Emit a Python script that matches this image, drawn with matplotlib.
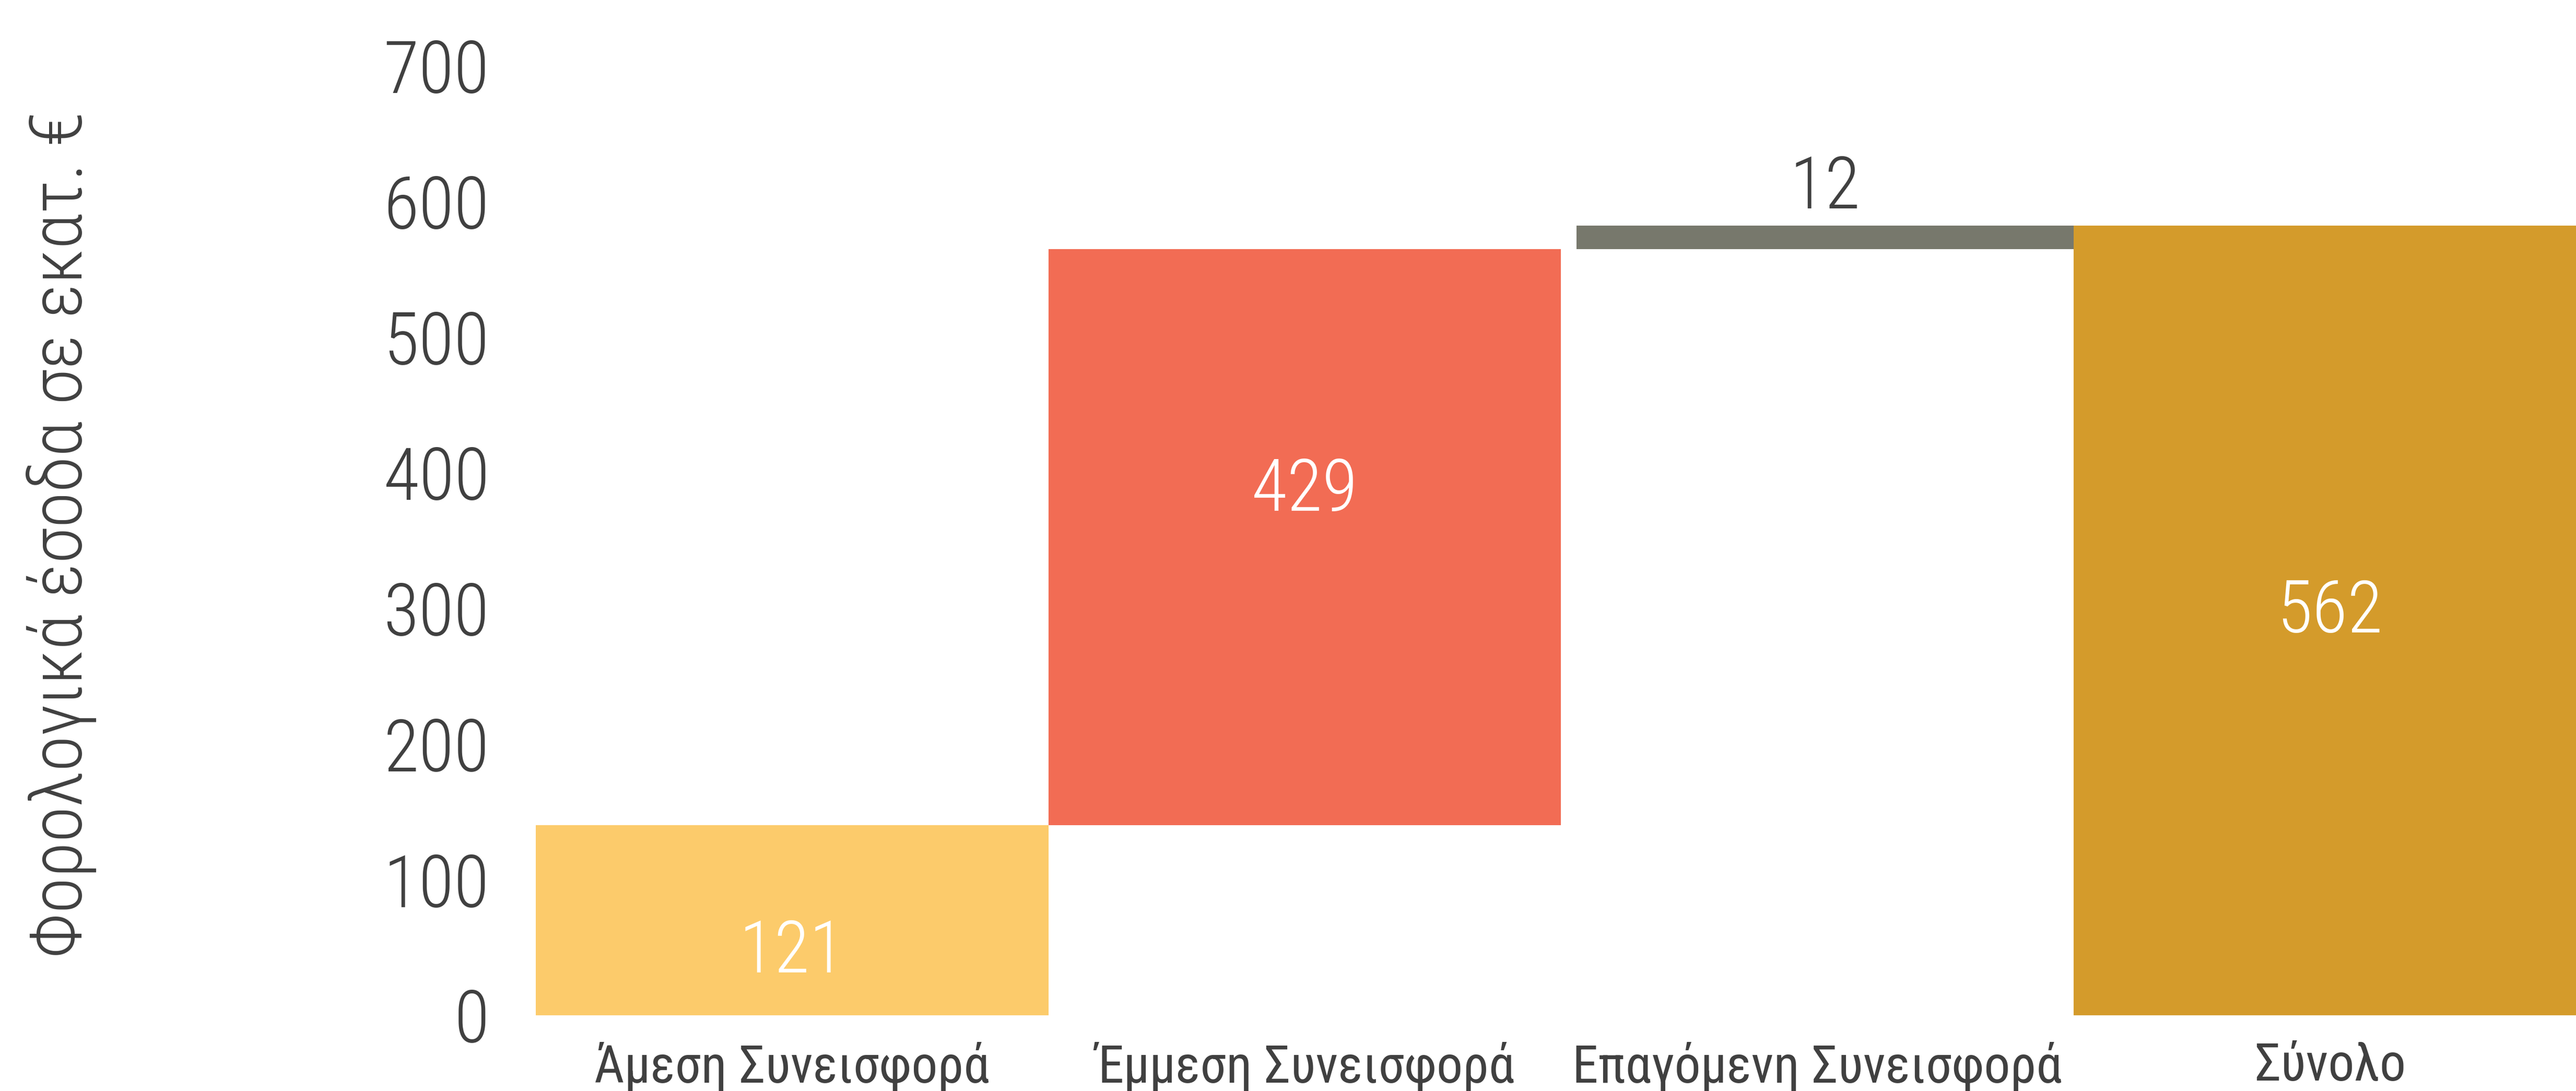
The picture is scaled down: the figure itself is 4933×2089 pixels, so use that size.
import matplotlib
matplotlib.use("Agg")
import matplotlib.pyplot as plt
from matplotlib import font_manager as fm

# categories and values (bar heights as drawn in the source, labels as printed)
categories = ["Άμεση Συνεισφορά", "Έμμεση Συνεισφορά", "Επαγόμενη Συνεισφορά", "Σύνολο"]
bar_heights = [140, 425, 17, 582]
bar_bottoms = [0, 140, 565, 0]
value_labels = ["121", "429", "12", "562"]
y_ticks = [0, 100, 200, 300, 400, 500, 600, 700]

colors = ["#FCCB6B", "#F26C54", "#77786C", "#D49B2B"]
label_colors = ["white", "white", "#404040", "white"]
ylabel = "Φορολογικά έσοδα σε εκατ. €"

# pick a condensed face if one is installed
names = {f.name for f in fm.fontManager.ttflist}
font = "DejaVu Sans"
for cand in ["Roboto Condensed", "Liberation Sans Narrow", "DejaVu Sans Condensed",
             "Open Sans Condensed", "Noto Sans Condensed"]:
    if cand in names:
        font = cand
        break
plt.rcParams["font.family"] = [font, "DejaVu Sans"]

W, H, DPI = 4933, 2089, 100
fig = plt.figure(figsize=(W / DPI, H / DPI), dpi=DPI)
ax = fig.add_axes([1026 / W, (H - 1944) / H, 1 - 1026 / W, (1944 - 126) / H])

lefts = [-0.5, 0.5, 1.53, 2.5]
widths = [1.0, 1.0, 0.97, 1.0]
ax.bar(lefts, bar_heights, bottom=bar_bottoms, width=widths, align="edge",
       color=colors, zorder=2)

# baseline
ax.axhline(-2.7, color="#77786C", lw=10, zorder=3)

# value labels
label_frac = [0.33, 0.58, None, 0.51]
for i, (h, b, txt) in enumerate(zip(bar_heights, bar_bottoms, value_labels)):
    cx = lefts[i] + widths[i] / 2
    if label_frac[i] is None:
        ax.text(cx, b + h + 2, txt, ha="center", va="bottom", fontsize=100,
                color=label_colors[i], fontweight="light")
    else:
        ax.text(cx, b + h * label_frac[i], txt, ha="center", va="center",
                fontsize=100, color=label_colors[i], fontweight="light")

ax.set_xlim(-0.5, 3.48)
ax.set_ylim(0, 700)
ax.set_yticks(y_ticks)
ax.set_yticklabels([str(t) for t in y_ticks], fontsize=100, color="#404040",
                   fontweight="light")
ax.set_xticks(range(len(categories)))
ax.set_xticklabels(categories, fontsize=72, color="#404040")
ax.tick_params(axis="y", length=0, pad=64)
ax.tick_params(axis="x", length=0, pad=36)
for s in ax.spines.values():
    s.set_visible(False)

fig.text(118 / W, 0.51, ylabel, rotation=90, ha="center", va="center",
         fontsize=100, color="#404040", fontweight="light")

fig.savefig("out.png", dpi=DPI, facecolor="white")
